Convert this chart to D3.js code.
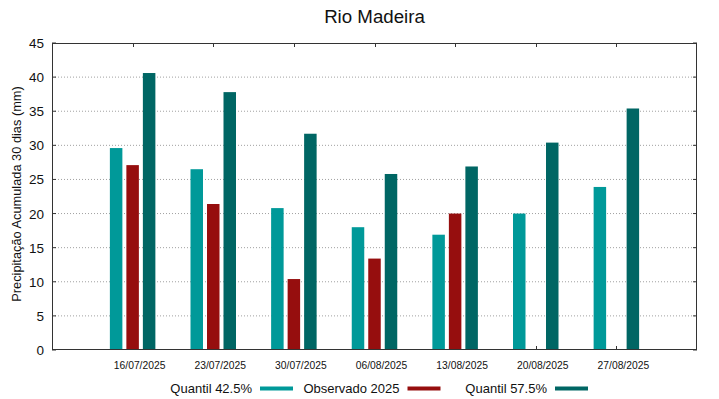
<!DOCTYPE html>
<html>
<head>
<meta charset="utf-8">
<script src="https://cdn.jsdelivr.net/npm/d3@7"></script>
<style>
  body { margin: 0; background: #fff; }
  svg text { font-family: "Liberation Sans", Arial, sans-serif; fill: #111; }
</style>
</head>
<body>
<svg id="chart" width="719" height="399"></svg>
<script>
const dates = ["16/07/2025", "23/07/2025", "30/07/2025", "06/08/2025", "13/08/2025", "20/08/2025", "27/08/2025"];
const quantil425 = [29.6, 26.5, 20.8, 18.0, 16.9, 20.0, 23.9];
const observado = [27.1, 21.4, 10.4, 13.4, 20.0, null, null];
const quantil575 = [40.6, 37.8, 31.7, 25.8, 26.9, 30.4, 35.4];
const yTicks = [0, 5, 10, 15, 20, 25, 30, 35, 40, 45];

const series = [
  { name: "Quantil 42.5%", values: quantil425, color: "#009999", offset: -1 },
  { name: "Observado 2025", values: observado, color: "#960e0e", offset: 0 },
  { name: "Quantil 57.5%", values: quantil575, color: "#006664", offset: 1 },
];

const LEFT = 52, RIGHT = 697, TOP = 43, BOTTOM = 350;
const BAR_W = 12.5, BAR_STEP = 16.5, TICK_LEN = 4;

const svg = d3.select("#chart");
const x = d3.scaleLinear([0, dates.length + 1], [LEFT, RIGHT]);
const y = d3.scaleLinear([0, 45], [BOTTOM, TOP]);

// grid
svg.append("g")
  .selectAll("line")
  .data(yTicks.filter((t) => t > 0 && t < 45))
  .join("line")
  .attr("x1", LEFT).attr("x2", RIGHT)
  .attr("y1", (d) => y(d)).attr("y2", (d) => y(d))
  .attr("stroke", "#a0a0a0")
  .attr("stroke-dasharray", "1,2");

// ticks (inward, behind the bars)
const ticks = svg.append("g").attr("stroke", "#333");
yTicks.forEach((t) => {
  ticks.append("line").attr("x1", LEFT).attr("x2", LEFT + TICK_LEN).attr("y1", y(t)).attr("y2", y(t));
  ticks.append("line").attr("x1", RIGHT - TICK_LEN).attr("x2", RIGHT).attr("y1", y(t)).attr("y2", y(t));
});
dates.forEach((d, i) => {
  const cx = Math.round(x(i + 1)) + 0.5;
  ticks.append("line").attr("x1", cx).attr("x2", cx).attr("y1", TOP).attr("y2", TOP + TICK_LEN);
  ticks.append("line").attr("x1", cx).attr("x2", cx).attr("y1", BOTTOM - TICK_LEN).attr("y2", BOTTOM);
});

// bars
series.forEach((s) => {
  svg.append("g")
    .selectAll("rect")
    .data(s.values.map((v, i) => ({ v, i })).filter((d) => d.v != null))
    .join("rect")
    .attr("x", (d) => x(d.i + 1) + s.offset * BAR_STEP - BAR_W / 2)
    .attr("width", BAR_W)
    .attr("y", (d) => y(d.v))
    .attr("height", (d) => y(0) - y(d.v))
    .attr("fill", s.color);
});

// frame
svg.append("rect")
  .attr("x", LEFT + 0.5).attr("y", TOP + 0.5)
  .attr("width", RIGHT - LEFT - 1).attr("height", BOTTOM - TOP - 1)
  .attr("fill", "none").attr("stroke", "#333");

// y tick labels
svg.append("g")
  .selectAll("text")
  .data(yTicks)
  .join("text")
  .attr("x", 44)
  .attr("y", (d) => y(d) + 5)
  .attr("text-anchor", "end")
  .attr("font-size", 13.5)
  .text((d) => d);

// x labels
svg.append("g")
  .selectAll("text")
  .data(dates)
  .join("text")
  .attr("x", (d, i) => x(i + 1) + 7)
  .attr("y", 369)
  .attr("text-anchor", "middle")
  .attr("font-size", 10.3)
  .text((d) => d);

// title
svg.append("text")
  .attr("x", (LEFT + RIGHT) / 2)
  .attr("y", 23)
  .attr("text-anchor", "middle")
  .attr("font-size", 18.7)
  .text("Rio Madeira");

// y label
svg.append("text")
  .attr("transform", "translate(21,194) rotate(-90)")
  .attr("text-anchor", "middle")
  .attr("font-size", 12.8)
  .text("Precipitação Acumulada 30 dias (mm)");

// legend
const legend = svg.append("g");
series.forEach((s, i) => {
  const sx = 260 + i * 147.5;
  legend.append("text")
    .attr("x", sx - 8)
    .attr("y", 393)
    .attr("text-anchor", "end")
    .attr("font-size", 13)
    .text(s.name);
  legend.append("rect")
    .attr("x", sx).attr("y", 386.5)
    .attr("width", 33).attr("height", 4)
    .attr("fill", s.color);
});
</script>
</body>
</html>
